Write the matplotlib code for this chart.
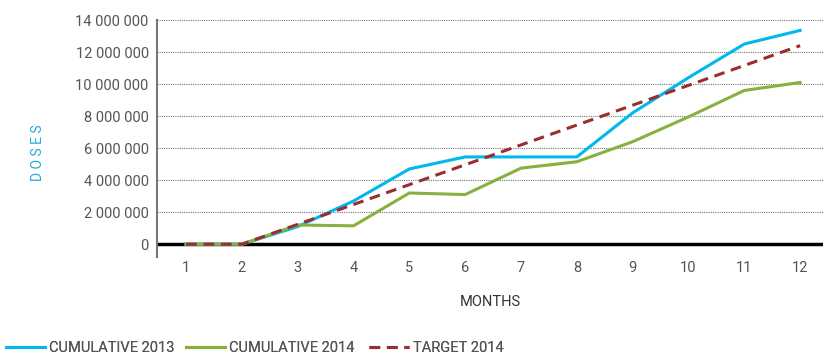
# cumulative doses chart

import matplotlib.pyplot as plt
import matplotlib.ticker as ticker
import numpy as np

months = [1, 2, 3, 4, 5, 6, 7, 8, 9, 10, 11, 12]
cumulative_2013 = [0, 0, 1.1e6, 2.7e6, 4.7e6, 5.45e6, 5.45e6, 5.45e6, 8.2e6, 10.4e6, 12.5e6, 13.35e6]
cumulative_2014 = [0, 0, 1.2e6, 1.15e6, 3.2e6, 3.1e6, 4.75e6, 5.15e6, 6.4e6, 7.95e6, 9.6e6, 10.1e6]
target_2014 = [0, 0, 1.24e6, 2.48e6, 3.72e6, 4.96e6, 6.2e6, 7.44e6, 8.68e6, 9.92e6, 11.16e6, 12.4e6]
y_ticks = [0, 2e6, 4e6, 6e6, 8e6, 10e6, 12e6, 14e6]

plt.rcParams['font.family'] = ['Roboto', 'DejaVu Sans']
text_color = '#555555'

fig = plt.figure(figsize=(8.23, 3.56), dpi=100)
ax = fig.add_axes([0.1908, 0.278, 0.8092, 0.6658])

# gridlines (dotted) and thick zero line
for v in y_ticks[1:]:
    ax.axhline(v, color='#777777', lw=0.8, ls=(0, (1, 1)), zorder=1)
ax.axhline(0, color='black', lw=2.5, zorder=2)

lines = []
lines += ax.plot(months, cumulative_2013, color='#00B8EE', lw=2.2, label='CUMULATIVE 2013', zorder=3)
lines += ax.plot(months, cumulative_2014, color='#86B13F', lw=2.2, label='CUMULATIVE 2014', zorder=3)
lines += ax.plot(months, target_2014, color='#9B2D30', lw=2.2, ls=(0, (3.5, 2.2)), label='TARGET 2014', zorder=4)

ax.set_xlim(0.48, 12.41)
ax.set_ylim(-0.8e6, 14e6)

ax.set_yticks(y_ticks)
ax.yaxis.set_major_formatter(ticker.FuncFormatter(lambda v, p: f'{int(v):,}'.replace(',', ' ')))
ax.set_xticks(months)

for s in ['top', 'right', 'bottom']:
    ax.spines[s].set_visible(False)
ax.spines['left'].set_color('#777777')
ax.spines['left'].set_linewidth(1.5)

ax.tick_params(axis='both', length=0, labelsize=10.5, labelcolor=text_color)
ax.tick_params(axis='y', pad=6)
ax.tick_params(axis='x', pad=3)

ax.set_xlabel('MONTHS', fontsize=10.5, color='#333333', labelpad=14)
fig.text(0.046, 0.57, 'D O S E S', rotation=90, color='#22AADD', fontsize=10, ha='center', va='center')

# legend entries placed one by one along the bottom
legend_x = [-0.009, 0.21, 0.433]
for ln, x0 in zip(lines, legend_x):
    lg = fig.legend([ln], [ln.get_label()], loc='lower left', bbox_to_anchor=(x0, -0.035),
                    frameon=False, fontsize=10.5, handlelength=2.7, handletextpad=0.25,
                    labelcolor=text_color)
    fig.add_artist(lg)

fig.savefig('out.png', dpi=100)
